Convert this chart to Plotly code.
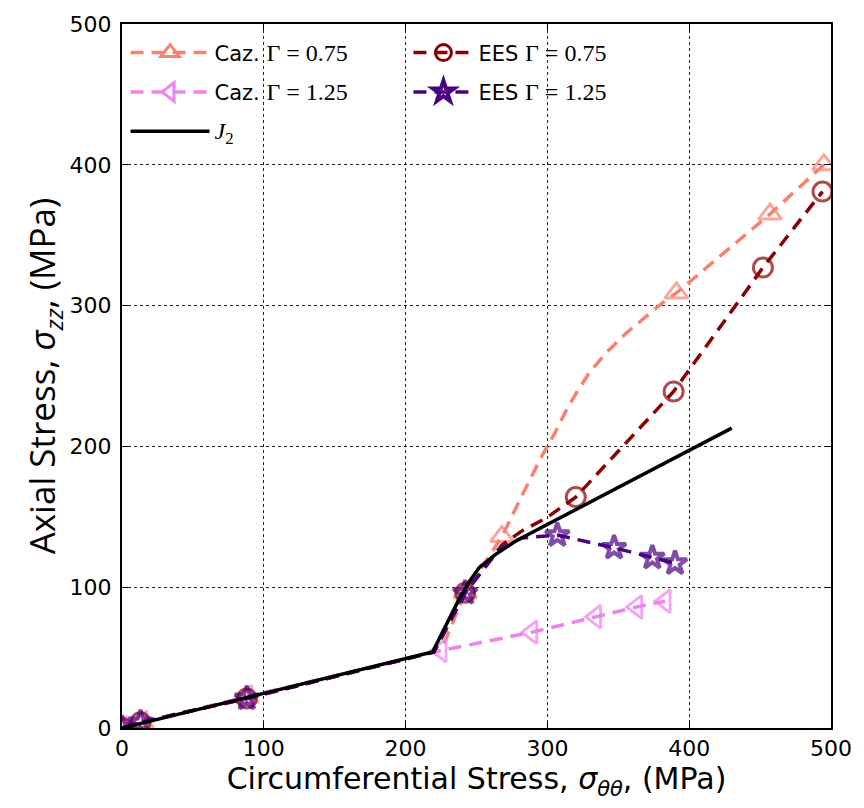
import plotly.graph_objects as go

# ---- data ----
caz075_x = [0, 14, 88, 225, 242, 268, 282, 296, 305, 313, 321, 330, 342, 355,
            367, 380, 391, 457, 495]
caz075_y = [0, 4, 22, 55, 96, 136, 165, 193, 209, 225, 239, 253, 267, 280,
            290, 301, 309, 365, 400]
caz075_mark = [1, 1, 1, 0, 1, 1, 0, 0, 0, 0, 0, 0, 0, 0, 0, 0, 1, 1, 1]

ees075_x = [0, 13, 88, 220, 242, 268, 282, 299, 320, 389, 452, 494]
ees075_y = [0, 4, 21, 54, 96, 130, 140, 149, 164, 239, 327, 381]
ees075_mark = [1, 1, 1, 0, 1, 0, 0, 0, 1, 1, 1, 1]

caz125_x = [0, 14, 88, 225, 289, 334, 363, 383]
caz125_y = [0, 4, 22, 55, 68, 79, 86, 90]
caz125_mark = [1, 1, 1, 1, 1, 1, 1, 1]

ees125_x = [0, 13, 88, 220, 242, 266, 282, 307, 347, 374, 390]
ees125_y = [0, 4, 21, 54, 96, 127, 135, 137, 128, 121, 117]
ees125_mark = [1, 1, 1, 0, 1, 0, 0, 1, 1, 1, 1]

j2_x = [0, 219, 238, 245, 252, 263, 278, 301, 430]
j2_y = [0, 54, 92, 104, 114, 123, 133, 145, 213]

SERIF = "Liberation Serif"
DASH = "13px,8px"


def sname(prefix, g):
    return (f"{prefix} <span style='font-family:{SERIF};font-size:24px'>"
            f"Γ = {g}</span>")


fig = go.Figure()


def add_series(x, y, mk, name, color, symbol, msize, legend, mlw=3):
    sizes = [msize if m else 0 for m in mk]
    fig.add_trace(go.Scatter(
        x=x, y=y, mode="lines", showlegend=False,
        line=dict(color=color, width=3.5, dash=DASH),
    ))
    fig.add_trace(go.Scatter(
        x=x, y=y, mode="markers", showlegend=False,
        marker=dict(symbol=symbol, size=sizes, color=color,
                    line=dict(color=color, width=mlw)),
    ))
    # legend entry
    fig.add_trace(go.Scatter(
        x=[None], y=[None], mode="lines+markers", name=name, legend=legend,
        legendgroup=name,
        line=dict(color=color, width=3.5, dash=DASH),
        marker=dict(symbol=symbol, size=msize, color=color,
                    line=dict(color=color, width=mlw)),
    ))


add_series(caz075_x, caz075_y, caz075_mark, sname("Caz.", "0.75"), "#FA8072",
           "triangle-up-open", 20, "legend")
add_series(caz125_x, caz125_y, caz125_mark, sname("Caz.", "1.25"), "#EE82EE",
           "triangle-left-open", 20, "legend")
add_series(ees075_x, ees075_y, ees075_mark, sname("EES", "0.75"), "#8B0000",
           "circle-open", 19, "legend2")
add_series(ees125_x, ees125_y, ees125_mark, sname("EES", "1.25"), "#4B0082",
           "star-open", 18, "legend2", mlw=4)

fig.add_trace(go.Scatter(
    x=j2_x, y=j2_y, mode="lines",
    name=f"<span style='font-family:{SERIF};font-size:24px'><i>J</i><sub>2</sub></span>",
    legend="legend", legendgroup="j2", line=dict(color="black", width=3.5),
))

axis_common = dict(
    range=[0, 500], dtick=100, showgrid=True, gridcolor="rgba(0,0,0,0.85)",
    griddash="dot", gridwidth=1.3, zeroline=False, showline=True,
    linecolor="black", linewidth=2, mirror="ticks", ticks="inside",
    ticklen=6, tickcolor="black",
)

fig.update_layout(
    width=864, height=808,
    margin=dict(l=122, r=31, t=20, b=80),
    paper_bgcolor="white", plot_bgcolor="white",
    font=dict(family="DejaVu Sans", color="black"),
    xaxis=dict(**axis_common,
               tickfont=dict(size=22, family="DejaVu Sans"),
               title=dict(text="Circumferential Stress, <i>σ</i><sub><i>θθ</i></sub>, (MPa)",
                          font=dict(size=30, family="DejaVu Sans"),
                          standoff=2)),
    yaxis=dict(**axis_common,
               tickfont=dict(size=22, family="DejaVu Sans"),
               ticklabelstandoff=4,
               title=dict(text="Axial Stress, <i>σ</i><sub><i>zz</i></sub>, (MPa)",
                          font=dict(size=35, family="Open Sans"),
                          standoff=0)),
    legend=dict(x=0.005, y=0.988, xanchor="left", yanchor="top",
                bgcolor="rgba(255,255,255,0)", font=dict(size=21),
                itemwidth=79, tracegroupgap=9),
    legend2=dict(x=0.404, y=0.988, xanchor="left", yanchor="top",
                 bgcolor="rgba(255,255,255,0)", font=dict(size=21),
                 itemwidth=60, tracegroupgap=9),
)

fig.write_html("out.html")
